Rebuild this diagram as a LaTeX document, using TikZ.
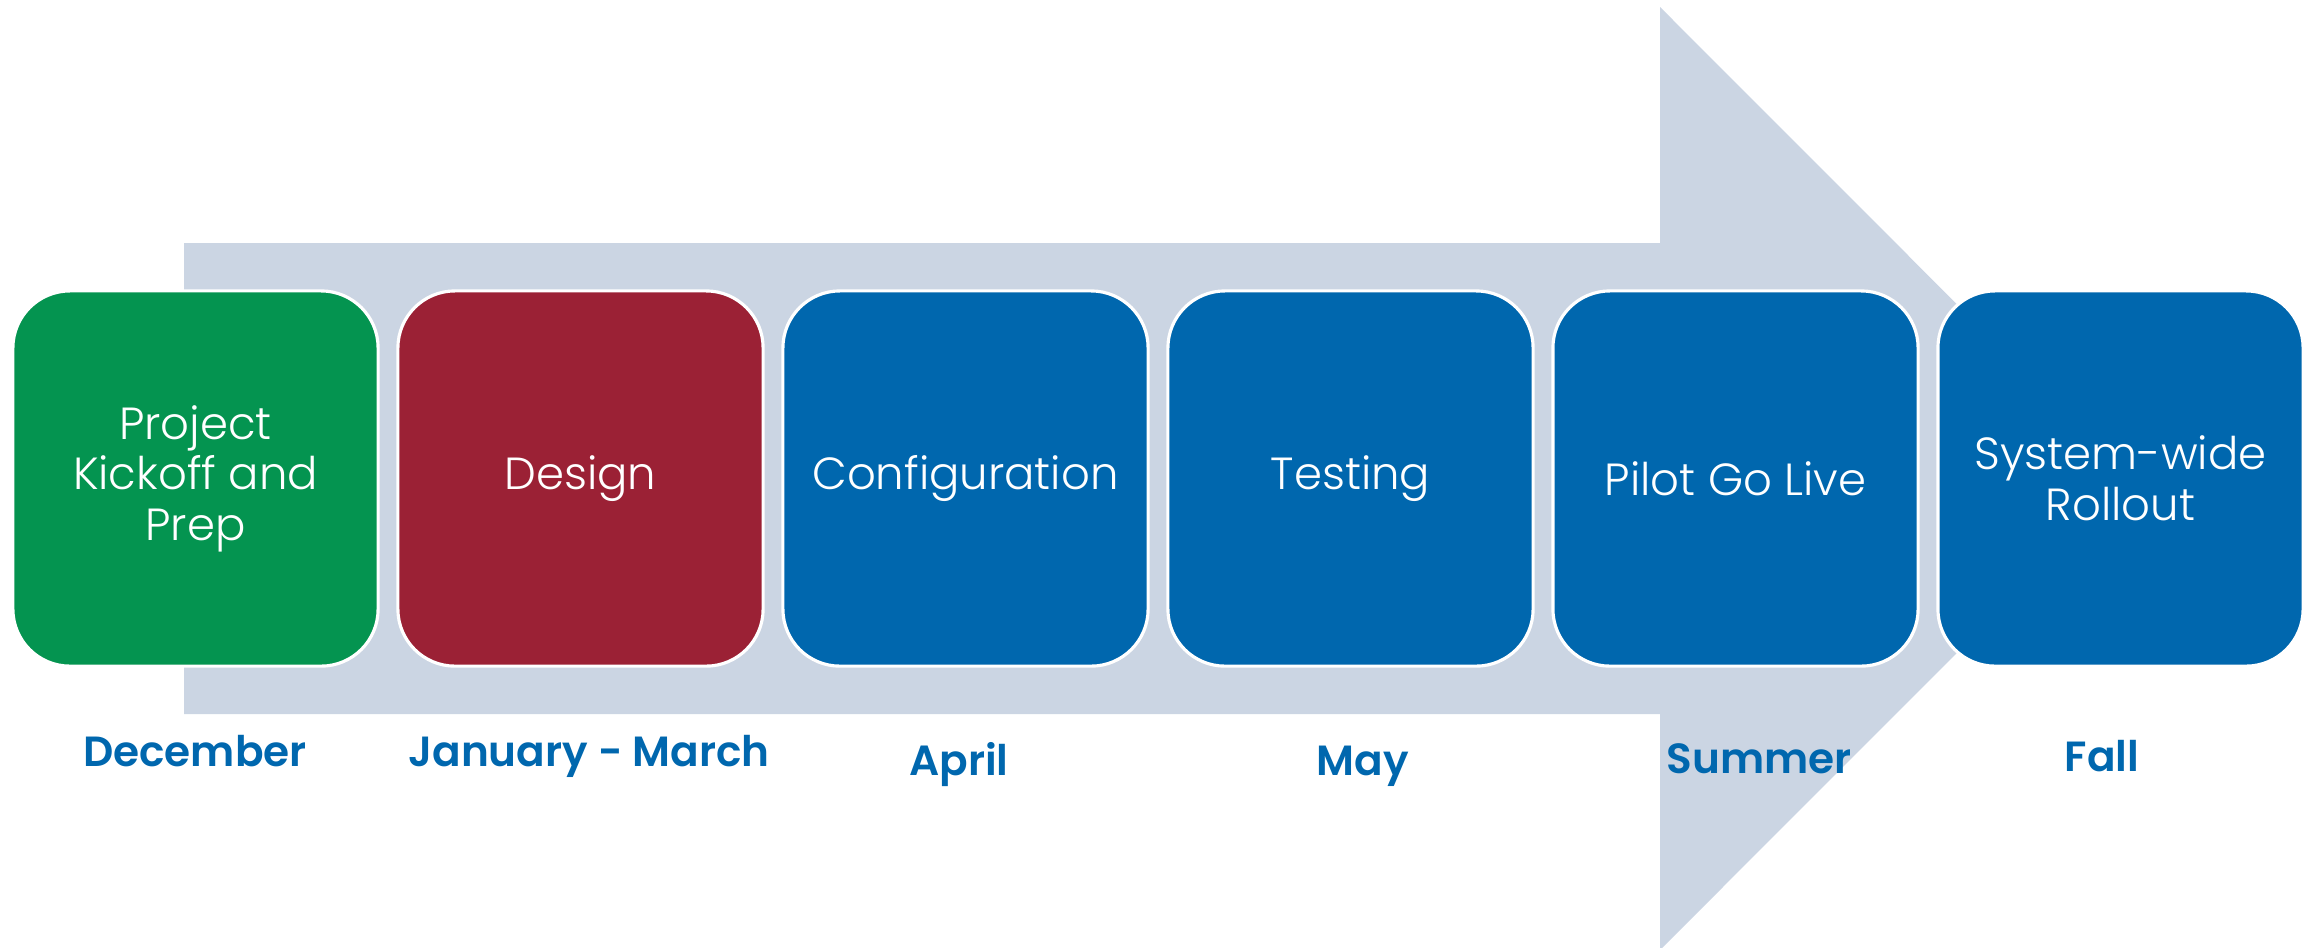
\documentclass[tikz,border=0pt]{standalone}
\usepackage{fontspec}
\setmainfont{Poppins}[UprightFont=* Light, BoldFont=* SemiBold]
\usepackage{tikz}
\usetikzlibrary{calc,positioning}
\definecolor{arrowgrey}{RGB}{203,213,227}
\definecolor{kgreen}{RGB}{4,148,80}
\definecolor{kred}{RGB}{155,33,53}
\definecolor{kblue}{RGB}{0,103,174}
\tikzset{
  bigarrow/.style={fill=arrowgrey},
  phase/.style={draw=white,line width=0.9pt,rounded corners=0.57cm,
    minimum width=3.65cm,minimum height=3.75cm,inner sep=0pt,
    align=center,text=white,font=\fontsize{12.8}{14.4}\selectfont},
  when/.style={anchor=base,text=kblue,font=\fontsize{12}{14}\selectfont\bfseries}
}

\begin{document}
\begin{tikzpicture}[x=0.01cm,y=-0.01cm]
  \useasboundingbox (0,0) rectangle (2310,947);
  \clip (0,0) rectangle (2310,947);

  % big arrow behind the phases
  \fill[bigarrow] (184,243) -- (1660,243) -- (1660,7) -- (2131,478.5)
    -- (1660,950) -- (1660,714) -- (184,714) -- cycle;

  % phases
  \foreach \i/\col/\txt in {0/kgreen/{Project\\Kickoff and\\Prep},
      1/kred/Design, 2/kblue/Configuration, 3/kblue/Testing,
      4/kblue/Pilot Go Live, 5/kblue/{System-wide\\Rollout}}
    \node[phase,fill=\col] (box\i) at (195.5+385*\i,478.5) {\txt};

  % dates under the phases
  \node[when] (dec) at (195,766) {December};
  \node[when] (janmar) at (589,766) {January - March};
  \node[when] (apr) at (959,775) {April};
  \node[when] (may) at (1363,775) {May};
  \node[when] (summer) at (1759,773) {Summer};
  \node[when] (fall) at (2102,771) {Fall};
\end{tikzpicture}
\end{document}
